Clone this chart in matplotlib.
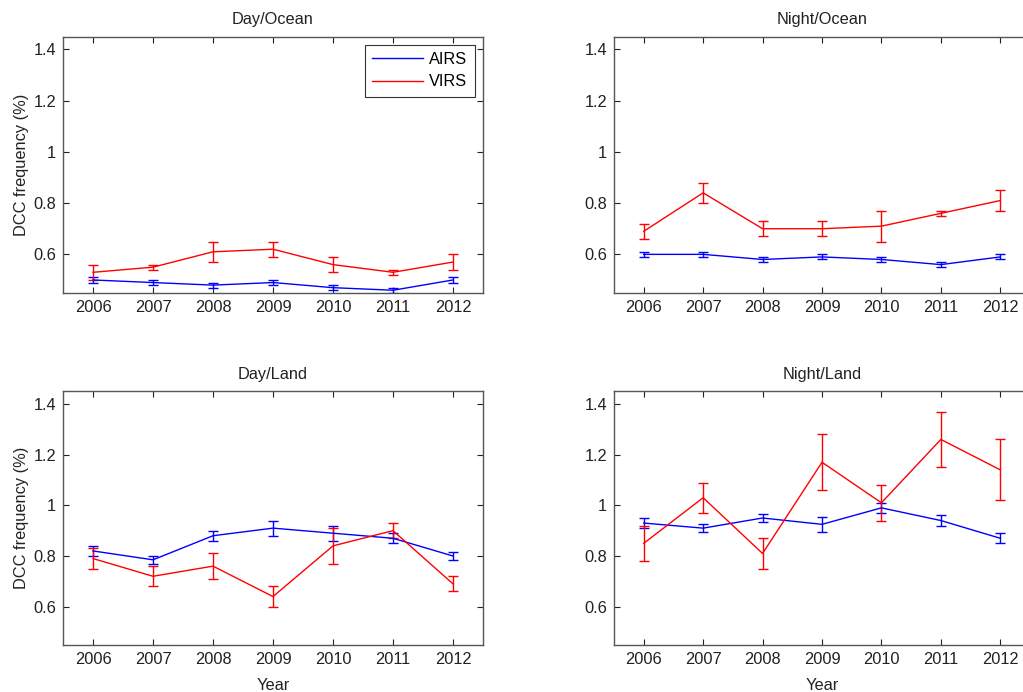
import matplotlib
matplotlib.use("Agg")
import matplotlib.pyplot as plt
from matplotlib.lines import Line2D

plt.rcParams['font.family'] = ['Liberation Sans', 'DejaVu Sans']

years = [2006, 2007, 2008, 2009, 2010, 2011, 2012]

titles = ["Day/Ocean", "Night/Ocean", "Day/Land", "Night/Land"]

airs_day_ocean = [0.50, 0.49, 0.48, 0.49, 0.47, 0.46, 0.50]
airs_day_ocean_err = [0.01, 0.01, 0.01, 0.01, 0.01, 0.01, 0.01]
virs_day_ocean = [0.53, 0.55, 0.61, 0.62, 0.56, 0.53, 0.57]
virs_day_ocean_err = [0.03, 0.01, 0.04, 0.03, 0.03, 0.01, 0.03]

airs_night_ocean = [0.60, 0.60, 0.58, 0.59, 0.58, 0.56, 0.59]
airs_night_ocean_err = [0.01, 0.01, 0.01, 0.01, 0.01, 0.01, 0.01]
virs_night_ocean = [0.69, 0.84, 0.70, 0.70, 0.71, 0.76, 0.81]
virs_night_ocean_err = [0.03, 0.04, 0.03, 0.03, 0.06, 0.01, 0.04]

airs_day_land = [0.82, 0.785, 0.88, 0.91, 0.89, 0.87, 0.80]
airs_day_land_err = [0.02, 0.015, 0.02, 0.03, 0.03, 0.02, 0.015]
virs_day_land = [0.79, 0.72, 0.76, 0.64, 0.84, 0.90, 0.69]
virs_day_land_err = [0.04, 0.04, 0.05, 0.04, 0.07, 0.03, 0.03]

airs_night_land = [0.93, 0.91, 0.95, 0.925, 0.99, 0.94, 0.87]
airs_night_land_err = [0.02, 0.015, 0.015, 0.03, 0.02, 0.02, 0.02]
virs_night_land = [0.85, 1.03, 0.81, 1.17, 1.01, 1.26, 1.14]
virs_night_land_err = [0.07, 0.06, 0.06, 0.11, 0.07, 0.11, 0.12]

series_names = ["AIRS", "VIRS"]
series_colors = ["blue", "red"]

panels = [
    (airs_day_ocean, airs_day_ocean_err, virs_day_ocean, virs_day_ocean_err),
    (airs_night_ocean, airs_night_ocean_err, virs_night_ocean, virs_night_ocean_err),
    (airs_day_land, airs_day_land_err, virs_day_land, virs_day_land_err),
    (airs_night_land, airs_night_land_err, virs_night_land, virs_night_land_err),
]

W, H = 1023, 692
fig = plt.figure(figsize=(W / 100, H / 100), dpi=100)

# pixel boxes: (left, top, right, bottom)
boxes = [
    (63, 36.5, 483, 292.8),
    (614, 36.5, 1030, 292.8),
    (63, 391.3, 483, 644.7),
    (614, 391.3, 1030, 644.7),
]

yticks = [0.6, 0.8, 1.0, 1.2, 1.4]
yticklabels = ["0.6", "0.8", "1", "1.2", "1.4"]
fs = 11.8
tc = "#222222"
spine_col = "#555555"

for i, (box, data, title) in enumerate(zip(boxes, panels, titles)):
    l, t, r, b = box
    ax = fig.add_axes([l / W, 1 - b / H, (r - l) / W, (b - t) / H])
    a, ae, v, ve = data
    for vals, errs, c in ((a, ae, series_colors[0]), (v, ve, series_colors[1])):
        ax.errorbar(years, vals, yerr=errs, color=c, lw=1.0, capsize=3.5,
                    elinewidth=1.0, capthick=1.0)
    ax.set_xlim(2005.5, 2012.5)
    ax.set_ylim(0.45, 1.45)
    ax.set_xticks(years)
    ax.set_xticklabels([str(y) for y in years], fontsize=fs, color=tc)
    ax.set_yticks(yticks)
    ax.set_yticklabels(yticklabels, fontsize=fs, color=tc)
    ax.tick_params(direction="in", top=True, right=True, length=4,
                   width=0.8, color=tc, pad=5)
    for s in ax.spines.values():
        s.set_color(spine_col)
        s.set_linewidth(1.0)
    ax.set_title(title, fontsize=fs, color=tc, pad=9)
    if i % 2 == 0:
        ax.set_ylabel("DCC frequency (%)", fontsize=fs, color=tc, labelpad=3)
    if i >= 2:
        ax.set_xlabel("Year", fontsize=fs, color=tc, labelpad=8)
    if i == 0:
        handles = [Line2D([], [], color=c, lw=1.0) for c in series_colors]
        leg = ax.legend(handles, series_names, loc="upper right", fontsize=fs,
                        frameon=True, fancybox=False, edgecolor="black",
                        handlelength=3.1, borderpad=0.45, handletextpad=0.4,
                        borderaxespad=0.5, labelspacing=0.45)
        leg.get_frame().set_linewidth(0.8)

fig.savefig("out.png", dpi=100)
